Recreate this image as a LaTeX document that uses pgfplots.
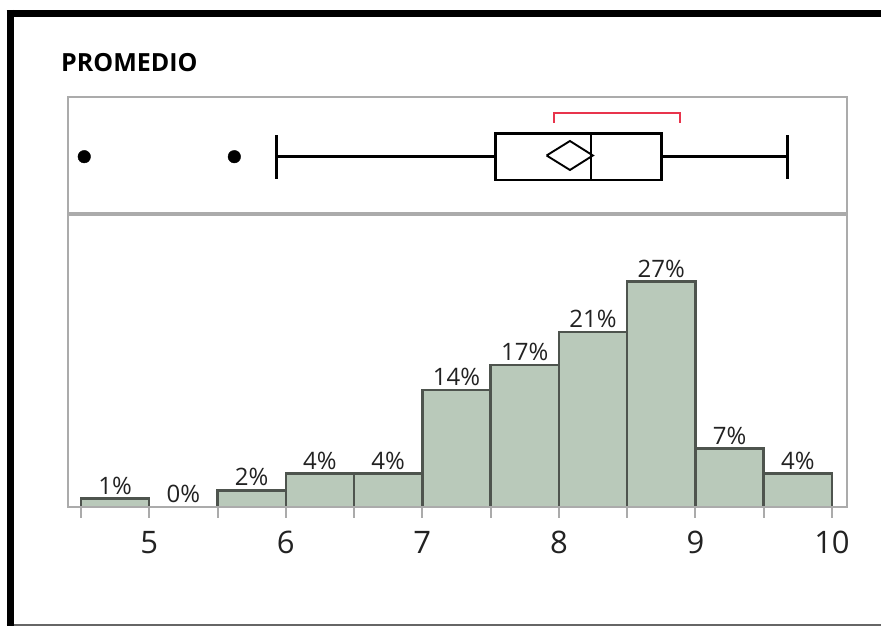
\documentclass[border=0pt]{standalone}
\usepackage{fontspec}
\setmainfont{Open Sans}
\usepackage{pgfplots}
\pgfplotsset{compat=1.18}
\usepgfplotslibrary{statistics}

\definecolor{panelgray}{RGB}{171,171,171}
\definecolor{barfill}{RGB}{185,201,186}
\definecolor{baredge}{RGB}{78,84,78}
\definecolor{ciRed}{RGB}{232,52,76}
\definecolor{txt}{RGB}{34,34,34}

% histogram bins of width 0.5 (percent of students)
\pgfplotstableread{
x    pct
4.5  1
5.0  0
5.5  2
6.0  4
6.5  4
7.0  14
7.5  17
8.0  21
8.5  27
9.0  7
9.5  4
10.0 4
}\histdata

% bin midpoints for the percentage labels
\pgfplotstableread{
x     pct
4.75  1
5.25  0
5.75  2
6.25  4
6.75  4
7.25  14
7.75  17
8.25  21
8.75  27
9.25  7
9.75  4
}\labeldata

\begin{document}
\begin{tikzpicture}
\path[use as bounding box] (0bp,0bp) rectangle (881bp,627bp);

% frame
\draw[black, line width=6.7bp] (6.7bp,613.7bp) -- (881bp,613.7bp);
\draw[black!60, line width=1.5bp] (6.7bp,2bp) -- (881bp,2bp);
\draw[black, line width=7.3bp] (10.35bp,617bp) -- (10.35bp,1.25bp);

% title
\node[anchor=base west, inner sep=0pt, text=black, font=\fontsize{25bp}{28bp}\selectfont\bfseries] at (61bp,555bp) {PROMEDIO};

% outlier box plot
\begin{axis}[
  at={(68bp,414bp)}, anchor=south west,
  width=779bp, height=116bp, scale only axis,
  xmin=4.405, xmax=10.110, ymin=0, ymax=116,
  xtick=\empty, ytick=\empty,
  axis line style={draw=panelgray, line width=2bp},
  clip=false,
]
\addplot+[
  boxplot prepared={
    lower whisker=5.933, lower quartile=7.534, median=8.235,
    upper quartile=8.753, upper whisker=9.675,
    draw position=56.3, box extend=46.7, whisker extend=44.3,
    draw direction=x
  },
  draw=black, fill=white, line width=2.5bp, mark=none, solid
] coordinates {};
% outliers
\addplot[only marks, mark=*, mark size=6.3bp, black] coordinates {(4.524,56.3) (5.623,56.3)};
% mean diamond
\addplot[black, line width=1.9bp] coordinates {(7.910,57.5) (8.081,72) (8.249,57.5) (8.081,43) (7.910,57.5)};
% shortest half bracket
\addplot[ciRed, line width=2.2bp] coordinates {(7.964,90) (7.964,99.7) (8.887,99.7) (8.887,90)};
\end{axis}

% histogram
\begin{axis}[
  at={(68bp,120bp)}, anchor=south west,
  width=779bp, height=292bp, scale only axis,
  xmin=4.405, xmax=10.110, ymin=0, ymax=35,
  axis on top,
  axis line style={draw=panelgray, line width=2bp},
  ytick=\empty,
  xtick={5,6,7,8,9,10},
  minor xtick={4.5,5.5,6.5,7.5,8.5,9.5},
  xtick pos=bottom, tick align=outside,
  major tick length=11bp, minor tick length=11bp,
  tick style={draw=panelgray, line width=2bp},
  /pgf/number format/assume math mode=true,
  xticklabel style={font=\fontsize{31bp}{33bp}\selectfont, text=txt, yshift=-10bp},
  clip=false,
]
\addplot[ybar interval, fill=barfill, draw=baredge, line width=2.5bp] table[x=x, y=pct] {\histdata};
\addplot[draw=none, mark=none,
  nodes near coords={\pgfmathprintnumber{\pgfplotspointmeta}\%},
  point meta=y,
  every node near coord/.append style={font=\fontsize{24bp}{26bp}\selectfont, text=txt, anchor=south, inner sep=0pt, yshift=4bp},
] table[x=x, y=pct] {\labeldata};
\end{axis}
\end{tikzpicture}
\end{document}
